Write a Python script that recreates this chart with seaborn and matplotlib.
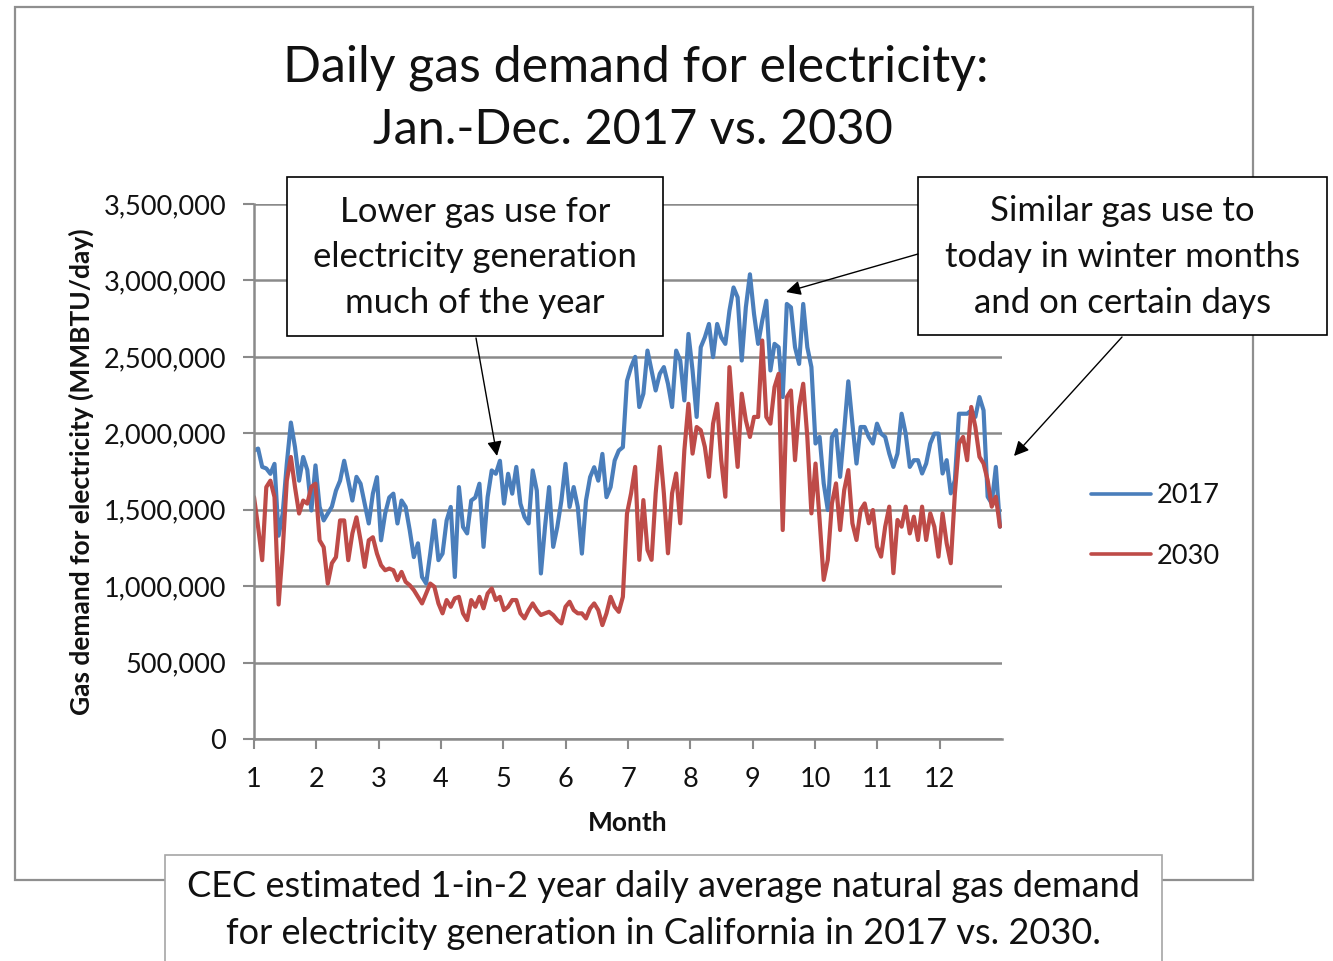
import numpy as np
import pandas as pd
import matplotlib
matplotlib.use("Agg")
import matplotlib.pyplot as plt
import seaborn as sns
from matplotlib.patches import Rectangle, FancyArrowPatch
from matplotlib.ticker import FuncFormatter

# Daily gas demand for electricity, sampled every second day (thousand MMBTU/day)
day_of_year = np.arange(0, 365, 2)

gas_2017 = [
    1887, 1900, 1780, 1770, 1735, 1800, 1330, 1475, 1800, 2070,
    1910, 1690, 1845, 1760, 1495, 1790, 1520, 1430, 1475, 1520,
    1625, 1690, 1820, 1690, 1560, 1715, 1670, 1540, 1410, 1605,
    1713, 1300, 1475, 1580, 1605, 1410, 1560, 1518, 1365, 1190,
    1280, 1060, 1017, 1213, 1430, 1170, 1213, 1430, 1518, 1060,
    1648, 1387, 1345, 1560, 1580, 1670, 1257, 1582, 1757, 1735,
    1820, 1540, 1735, 1605, 1780, 1540, 1452, 1410, 1757, 1625,
    1083, 1387, 1648, 1257, 1387, 1560, 1800, 1518, 1648, 1518,
    1213, 1560, 1713, 1778, 1690, 1865, 1582, 1648, 1822, 1887,
    1909, 2343, 2433, 2500, 2172, 2259, 2541, 2411, 2280, 2389,
    2433, 2324, 2172, 2541, 2476, 2215, 2650, 2411, 2107, 2563,
    2628, 2715, 2498, 2715, 2628, 2585, 2802, 2954, 2889, 2476,
    2824, 3040, 2780, 2585, 2737, 2867, 2411, 2585, 2563, 2237,
    2846, 2824, 2563, 2454, 2846, 2563, 2433, 1933, 1976, 1672,
    1498, 1976, 2020, 1715, 2020, 2340, 2063, 1802, 2041, 2041,
    1976, 1933, 2063, 1998, 1976, 1867, 1780, 1867, 2128, 1998,
    1780, 1824, 1824, 1737, 1802, 1933, 1998, 1998, 1737, 1824,
    1607, 1693, 2128, 2128, 2128, 2150, 2107, 2237, 2150, 1585,
    1541, 1780, 1389,
]

gas_2030 = [
    1583, 1387, 1170, 1648, 1690, 1583, 880, 1235, 1690, 1845,
    1648, 1475, 1560, 1540, 1650, 1670, 1300, 1255, 1017, 1150,
    1190, 1430, 1430, 1170, 1345, 1450, 1300, 1126, 1300, 1320,
    1213, 1137, 1104, 1115, 1104, 1039, 1093, 1028, 1006, 974,
    930, 887, 952, 1017, 996, 887, 822, 909, 865, 920,
    930, 822, 778, 909, 865, 930, 855, 952, 985, 909,
    930, 843, 865, 909, 909, 822, 789, 843, 887, 843,
    811, 822, 832, 811, 778, 756, 865, 898, 843, 822,
    822, 789, 854, 887, 843, 745, 822, 930, 865, 832,
    930, 1474, 1607, 1780, 1172, 1563, 1237, 1172, 1607, 1911,
    1607, 1215, 1607, 1737, 1411, 1889, 2193, 1867, 2041, 2020,
    1911, 1715, 2063, 2193, 1824, 1585, 2433, 2085, 1780, 2259,
    2085, 1976, 2107, 2107, 2607, 2107, 2063, 2302, 2389, 1367,
    2237, 2280, 1824, 2172, 2324, 1976, 1476, 1802, 1433, 1041,
    1172, 1541, 1672, 1367, 1628, 1759, 1411, 1302, 1498, 1541,
    1411, 1498, 1259, 1193, 1389, 1520, 1085, 1433, 1389, 1520,
    1345, 1454, 1302, 1520, 1302, 1476, 1389, 1193, 1476, 1280,
    1150, 1607, 1933, 1976, 1824, 2172, 2041, 1846, 1802, 1693,
    1520, 1585, 1389,
]

series_labels = ["2017", "2030"]
series_colors = ["#4A7EBB", "#BE4B48"]
month_ticks = list(range(1, 13))
y_ticks = list(range(0, 3500001, 500000))

title_lines = ["Daily gas demand for electricity:", "Jan.-Dec. 2017 vs. 2030"]
note_left = "Lower gas use for\nelectricity generation\nmuch of the year"
note_right = "Similar gas use to\ntoday in winter months\nand on certain days"
caption = ("CEC estimated 1-in-2 year daily average natural gas demand\n"
           "for electricity generation in California in 2017 vs. 2030.")

W, H = 1333, 961
sns.set_theme(style="white")
plt.rcParams["font.family"] = ["Lato", "DejaVu Sans"]
TXT = "#111111"
GRID = "#8a8a8a"


def fx(px):
    return px / W


def fy(py):
    return 1 - py / H


fig = plt.figure(figsize=(W / 100, H / 100), dpi=100)
fig.patch.set_facecolor("white")

# outer chart frame
fig.add_artist(Rectangle((fx(15), fy(880)), fx(1253) - fx(15), fy(7) - fy(880),
                         transform=fig.transFigure, fill=False,
                         edgecolor="#8f8f8f", linewidth=1.6, zorder=0))

ax = fig.add_axes([fx(254), fy(739), (1002 - 254) / W, (739 - 204) / H])

month_pos = 1 + day_of_year * 12 / 365
df = pd.DataFrame({
    "Month": np.concatenate([month_pos, month_pos]),
    "Demand": np.concatenate([np.array(gas_2017), np.array(gas_2030)]) * 1000,
    "Year": [series_labels[0]] * len(gas_2017) + [series_labels[1]] * len(gas_2030),
})
sns.lineplot(data=df, x="Month", y="Demand", hue="Year", hue_order=series_labels,
             palette=dict(zip(series_labels, series_colors)), linewidth=3.0,
             estimator=None, sort=False, ax=ax)

ax.set_xlim(1, 13)
ax.set_ylim(0, 3500000)
ax.set_xticks(month_ticks)
ax.set_xticklabels([str(m) for m in month_ticks])
ax.set_yticks(y_ticks)
ax.yaxis.set_major_formatter(FuncFormatter(lambda v, p: f"{int(v):,}"))
ax.yaxis.grid(True, color=GRID, linewidth=1.8)
ax.xaxis.grid(False)
ax.set_axisbelow(True)
for side in ["top", "right"]:
    ax.spines[side].set_visible(False)
for side in ["left", "bottom"]:
    ax.spines[side].set_color(GRID)
    ax.spines[side].set_linewidth(1.8)
ax.tick_params(axis="y", direction="out", length=8, width=1.5, color=GRID,
               labelsize=19.5, labelcolor=TXT, pad=12, left=True)
ax.tick_params(axis="x", direction="out", length=7, width=1.5, color=GRID,
               labelsize=19.5, labelcolor=TXT, pad=13, bottom=True)
ax.set_facecolor("white")

ax.set_xlabel("Month", fontsize=19, fontweight="bold", color=TXT)
ax.xaxis.set_label_coords(0.5, -0.135)
ax.set_ylabel("Gas demand for electricity (MMBTU/day)", fontsize=19,
              fontweight="bold", color=TXT)
ax.yaxis.set_label_coords((94 - 254) / 748, 0.5)

handles, labels = ax.get_legend_handles_labels()
leg = ax.legend(handles, labels, loc="center left",
                bbox_to_anchor=(fx(1067), fy(526)), bbox_transform=fig.transFigure,
                frameon=False, fontsize=19.5, handlelength=2.2, handletextpad=0.2,
                labelspacing=1.3)
for line in leg.get_lines():
    line.set_linewidth(2.6)
for t in leg.get_texts():
    t.set_color(TXT)

# title
fig.text(fx(636), fy(68), title_lines[0], ha="center", va="center",
         fontsize=36, color=TXT)
fig.text(fx(633), fy(130), title_lines[1], ha="center", va="center",
         fontsize=35, color=TXT)

# callout boxes
for (x0, y0, x1, y1), txt in [((287, 177, 663, 336), note_left),
                               ((918, 177, 1327, 335), note_right)]:
    fig.add_artist(Rectangle((fx(x0), fy(y1)), fx(x1) - fx(x0), fy(y0) - fy(y1),
                             transform=fig.transFigure, facecolor="white",
                             edgecolor="black", linewidth=1.2, zorder=5))
    fig.text(fx((x0 + x1) / 2), fy((y0 + y1) / 2 + 1), txt, ha="center",
             va="center", fontsize=25, color=TXT, linespacing=1.52, zorder=6)

# arrows from callouts
for (xa, ya), (xb, yb) in [((476, 338), (497, 456)),
                           ((918, 254), (786, 292)),
                           ((1122, 337), (1014, 456))]:
    fig.add_artist(FancyArrowPatch((fx(xa), fy(ya)), (fx(xb), fy(yb)),
                                   transform=fig.transFigure, arrowstyle="-|>",
                                   mutation_scale=22, linewidth=1.0,
                                   color="black", shrinkA=0, shrinkB=0, zorder=6))

# caption box
fig.add_artist(Rectangle((fx(165), fy(975)), fx(1162) - fx(165), fy(855) - fy(975),
                         transform=fig.transFigure, facecolor="white",
                         edgecolor="#a6a6a6", linewidth=1.2, zorder=5))
fig.text(fx(663), fy(910), caption, ha="center", va="center", fontsize=26,
         color=TXT, linespacing=1.5, zorder=6)

fig.savefig("out.png", dpi=100, facecolor="white")
